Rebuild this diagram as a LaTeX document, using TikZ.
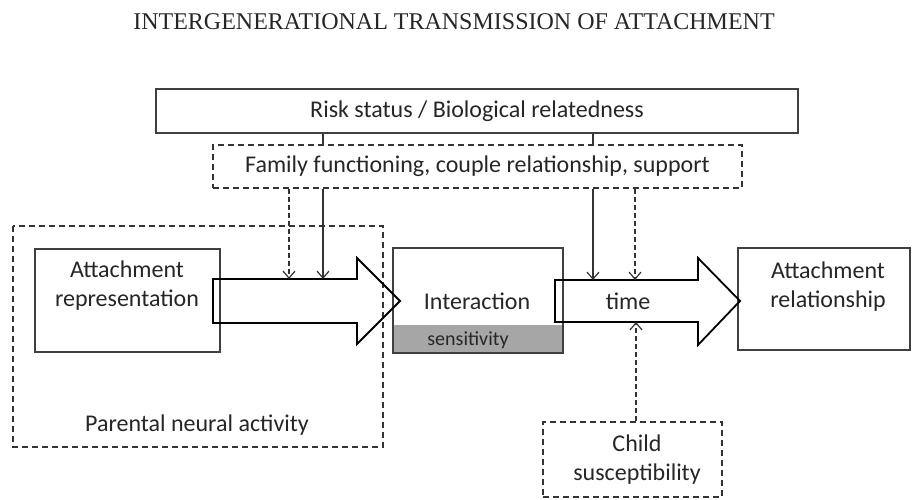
\documentclass[tikz,border=0pt]{standalone}
\usepackage{fontspec}
\setmainfont{Carlito}
\newfontfamily\titlefont{Liberation Serif}
\usetikzlibrary{arrows.meta}
\tikzset{
  box/.style={draw=black!75,line width=1.1pt,minimum width=#1},
  dbox/.style={draw=black!80,line width=1.1pt,dash pattern=on 6pt off 4pt},
  txt/.style={text=black!85,align=center,font=\fontsize{24}{29}\selectfont},
  bigarrow/.style={draw=black,line width=1.8pt,line join=miter},
  link/.style={draw=black!80,line width=1.2pt,-{Straight Barb[length=7pt,width=12pt]}},
  dlink/.style={link,dash pattern=on 5pt off 3pt}
}
\begin{document}
\begin{tikzpicture}[x=1pt,y=-1pt]
\useasboundingbox (0,0) rectangle (912,500);
\node[font=\titlefont\fontsize{24}{26}\selectfont,text=black!85] (title) at (454,22) {INTERGENERATIONAL TRANSMISSION OF ATTACHMENT};
% top boxes
\node[box=642pt,minimum height=44pt,txt] (risk) at (477,111) {Risk status / Biological relatedness};
\node[dbox,minimum width=529pt,minimum height=43pt,txt] (family) at (477.5,166.5) {Family functioning, couple relationship, support};
% parental box
\draw[dbox] (13,226) rectangle (383,447);
\node[txt] (neural) at (197,425) {Parental neural activity};
% main boxes
\node[box=185pt,minimum height=103pt] (rep) at (127.5,300.5) {};
\node[txt] (reptext) at (127,286) {Attachment\\representation};
\node[box=170pt,minimum height=105pt] (interact) at (478,300.5) {};
\fill[black!35] (393,325) rectangle (563,353);
\draw[draw=black!75,line width=1.1pt] (393,248) rectangle (563,353);
\node[txt] (interacttext) at (477,301) {Interaction};
\node[txt,font=\fontsize{20}{22}\selectfont] (sens) at (468,340) {sensitivity};
\node[box=172pt,minimum height=102pt] (rel) at (824,299) {};
\node[txt] (reltext) at (828,287) {Attachment\\relationship};
% child box
\node[dbox,minimum width=179pt,minimum height=75pt] (child) at (632.5,459.5) {};
\node[txt] (childtext) at (637,460) {Child\\susceptibility};
% big arrows
\draw[bigarrow] (213,279) -- (357,279) -- (357,258) -- (400,301) -- (357,344) -- (357,323) -- (213,323) -- cycle;
\draw[bigarrow] (555,280) -- (698,280) -- (698,258) -- (740,301) -- (698,345) -- (698,322) -- (555,322) -- cycle;
\node[txt] (time) at (628,301) {time};
% small arrows
\coordinate (s1) at (289,279);
\coordinate (s2) at (323,279);
\coordinate (s3) at (593,280);
\coordinate (s4) at (635,280);
\coordinate (s5) at (636,322);
\draw[link,-] (s2 |- risk.south) -- (s2 |- family.north);
\draw[link,-] (s3 |- risk.south) -- (s3 |- family.north);
\draw[link] (s2 |- family.south) -- (s2);
\draw[link] (s3 |- family.south) -- (s3);
\draw[dlink] (s1 |- family.south) -- (s1);
\draw[dlink] (s4 |- family.south) -- (s4);
\draw[dlink] (s5 |- child.north) -- (s5);
\end{tikzpicture}
\end{document}
